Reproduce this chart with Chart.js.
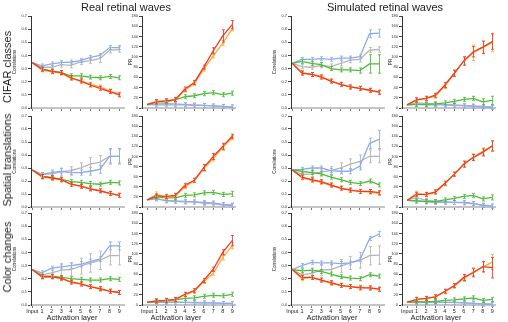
<!DOCTYPE html>
<html>
<head>
<meta charset="utf-8">
<script src="https://cdn.jsdelivr.net/npm/chart.js@4.4.0/dist/chart.umd.min.js"></script>
<style>
  body { margin: 0; width: 508px; height: 322px; background: #fff; position: relative; overflow: hidden;
         font-family: "Liberation Sans", Arial, sans-serif; color: #222; }
  canvas { position: absolute; }
  .t { position: absolute; white-space: nowrap; color: #222; transform: translate(-50%, -50%); will-change: transform; }
  .r { transform: translate(-50%, -50%) rotate(-90deg); }
</style>
</head>
<body>
<div class="t" style="left:126px;top:7px;font-size:11px">Real retinal waves</div>
<div class="t" style="left:385px;top:7px;font-size:11px">Simulated retinal waves</div>
<div class="t r" style="left:7px;top:67px;font-size:11px">CIFAR classes</div>
<div class="t r" style="left:7px;top:160px;font-size:11px">Spatial translations</div>
<div class="t r" style="left:7px;top:257px;font-size:11px">Color changes</div>
<div class="t" style="left:72px;top:317px;font-size:7.5px">Activation layer</div>
<div class="t" style="left:176px;top:317px;font-size:7.5px">Activation layer</div>
<div class="t" style="left:332px;top:317px;font-size:7.5px">Activation layer</div>
<div class="t" style="left:436px;top:317px;font-size:7.5px">Activation layer</div>

<script>
// x positions: input + 9 activation layers
const xLabels = ['Input', '1', '2', '3', '4', '5', '6', '7', '8', '9'];
// row order inside every panel array below
const seriesNames = ['red', 'orange', 'green', 'blue', 'gray'];

/* ---------- CIFAR classes ---------- */
const realCifarCorr = [
  [0.345, 0.295, 0.28, 0.27, 0.23, 0.205, 0.175, 0.15, 0.125, 0.10],
  [0.345, 0.29, 0.275, 0.265, 0.225, 0.21, 0.18, 0.16, 0.13, 0.105],
  [0.345, 0.295, 0.28, 0.27, 0.245, 0.245, 0.235, 0.23, 0.24, 0.23],
  [0.345, 0.32, 0.335, 0.345, 0.35, 0.36, 0.385, 0.40, 0.46, 0.46],
  [0.345, 0.31, 0.31, 0.33, 0.325, 0.35, 0.36, 0.375, 0.44, 0.445]
];
const realCifarCorrErr = [
  [0, 0.005, 0.005, 0.008, 0.012, 0.01, 0.008, 0.006, 0.005, 0.005],
  [0, 0.005, 0.005, 0.006, 0.008, 0.008, 0.006, 0.006, 0.005, 0.005],
  [0, 0.005, 0.005, 0.006, 0.008, 0.008, 0.006, 0.006, 0.008, 0.008],
  [0, 0.005, 0.005, 0.008, 0.008, 0.01, 0.008, 0.008, 0.01, 0.015],
  [0, 0.01, 0.015, 0.02, 0.02, 0.02, 0.02, 0.03, 0.02, 0.02]
];
const realCifarPR = [
  [6.5, 12, 14, 16.5, 37, 50, 80, 112, 141, 163],
  [6.5, 13, 14, 16, 35, 48, 76, 102, 127, 155],
  [6.5, 12, 12, 16, 22, 24, 28, 30, 26, 29],
  [6.5, 6, 6, 6, 6, 5, 5, 4, 3, 2],
  [6.5, 8, 9, 8, 7, 6, 5, 4, 3, 2]
];
const realCifarPRErr = [
  [0, 1, 1, 2, 4, 4, 4, 6, 12, 8],
  [0, 1, 1, 2, 3, 3, 3, 4, 5, 4],
  [0, 1, 1, 2, 3, 3, 4, 4, 3, 3],
  [0, 1, 1, 1, 1, 1, 1, 1, 1, 1],
  [0, 1, 1, 1, 1, 1, 1, 1, 1, 1]
];
const simCifarCorr = [
  [0.34, 0.265, 0.255, 0.235, 0.205, 0.18, 0.16, 0.15, 0.135, 0.12],
  [0.34, 0.27, 0.255, 0.24, 0.205, 0.18, 0.16, 0.15, 0.135, 0.12],
  [0.34, 0.355, 0.34, 0.33, 0.30, 0.29, 0.29, 0.285, 0.335, 0.335],
  [0.34, 0.37, 0.37, 0.375, 0.37, 0.38, 0.38, 0.39, 0.565, 0.57],
  [0.34, 0.315, 0.31, 0.325, 0.315, 0.34, 0.365, 0.37, 0.44, 0.445]
];
const simCifarCorrErr = [
  [0, 0.01, 0.01, 0.01, 0.01, 0.005, 0.005, 0.005, 0.005, 0.005],
  [0, 0.01, 0.01, 0.01, 0.01, 0.005, 0.005, 0.005, 0.005, 0.005],
  [0, 0.005, 0.005, 0.01, 0.01, 0.01, 0.01, 0.02, 0.07, 0.07],
  [0, 0.01, 0.01, 0.01, 0.005, 0.01, 0.01, 0.015, 0.03, 0.03],
  [0, 0.01, 0.01, 0.02, 0.02, 0.02, 0.02, 0.02, 0.02, 0.02]
];
const simCifarPR = [
  [6, 16, 19, 25, 45, 68, 92, 110, 119, 130],
  [6, 16, 19, 23, 43, 68, 92, 108, 118, 128],
  [6, 7, 7, 8, 10, 13, 17, 19, 12, 15],
  [6, 7, 6, 6, 6, 5, 4, 3, 2, 1],
  [6, 10, 9, 8, 7, 6, 5, 4, 3, 2]
];
const simCifarPRErr = [
  [0, 2, 2, 3, 5, 6, 8, 10, 12, 15],
  [0, 2, 2, 3, 5, 6, 9, 15, 12, 18],
  [0, 1, 1, 1, 2, 2, 2, 3, 6, 8],
  [0, 1, 1, 1, 1, 1, 1, 1, 1, 1],
  [0, 1, 1, 1, 1, 1, 1, 1, 1, 1]
];

/* ---------- Spatial translations ---------- */
const realSpatialCorr = [
  [0.285, 0.235, 0.225, 0.21, 0.175, 0.16, 0.14, 0.125, 0.105, 0.09],
  [0.285, 0.23, 0.22, 0.21, 0.175, 0.16, 0.14, 0.125, 0.105, 0.09],
  [0.285, 0.235, 0.225, 0.215, 0.195, 0.19, 0.18, 0.175, 0.19, 0.185],
  [0.285, 0.25, 0.265, 0.275, 0.265, 0.265, 0.275, 0.29, 0.39, 0.39],
  [0.285, 0.25, 0.255, 0.27, 0.28, 0.30, 0.33, 0.345, 0.39, 0.39]
];
const realSpatialCorrErr = [
  [0, 0.005, 0.005, 0.005, 0.005, 0.005, 0.005, 0.005, 0.005, 0.005],
  [0, 0.005, 0.005, 0.005, 0.005, 0.005, 0.005, 0.005, 0.005, 0.005],
  [0, 0.01, 0.01, 0.01, 0.01, 0.01, 0.01, 0.01, 0.01, 0.01],
  [0, 0.01, 0.02, 0.02, 0.02, 0.02, 0.03, 0.03, 0.06, 0.06],
  [0, 0.01, 0.02, 0.03, 0.03, 0.04, 0.05, 0.05, 0.05, 0.05]
];
const realSpatialPR = [
  [14, 22, 21, 23, 43, 53, 78, 100, 120, 140],
  [14, 25, 19, 22, 40, 52, 76, 96, 118, 137],
  [14, 20, 18, 18, 23, 24, 28, 29, 25, 26],
  [14, 17, 12, 11, 10, 10, 9, 8, 5, 4],
  [14, 16, 13, 12, 11, 10, 7, 6, 4, 3]
];
const realSpatialPRErr = [
  [0, 3, 2, 2, 3, 3, 6, 6, 6, 4],
  [0, 5, 3, 2, 3, 3, 5, 5, 6, 4],
  [0, 2, 2, 2, 3, 3, 3, 4, 4, 5],
  [0, 2, 2, 2, 2, 2, 2, 2, 2, 2],
  [0, 2, 2, 2, 2, 2, 2, 2, 2, 2]
];
const simSpatialCorr = [
  [0.285, 0.23, 0.21, 0.195, 0.17, 0.145, 0.13, 0.12, 0.12, 0.11],
  [0.285, 0.225, 0.205, 0.19, 0.165, 0.145, 0.13, 0.12, 0.115, 0.105],
  [0.285, 0.275, 0.265, 0.255, 0.23, 0.21, 0.19, 0.18, 0.20, 0.17],
  [0.285, 0.29, 0.30, 0.30, 0.28, 0.275, 0.275, 0.315, 0.49, 0.52],
  [0.285, 0.25, 0.255, 0.27, 0.28, 0.30, 0.33, 0.35, 0.39, 0.39]
];
const simSpatialCorrErr = [
  [0, 0.01, 0.005, 0.005, 0.005, 0.005, 0.005, 0.005, 0.005, 0.01],
  [0, 0.01, 0.005, 0.005, 0.005, 0.005, 0.005, 0.005, 0.005, 0.01],
  [0, 0.005, 0.005, 0.005, 0.005, 0.005, 0.005, 0.005, 0.005, 0.005],
  [0, 0.01, 0.015, 0.015, 0.01, 0.02, 0.02, 0.03, 0.04, 0.07],
  [0, 0.01, 0.02, 0.03, 0.03, 0.04, 0.04, 0.05, 0.05, 0.05]
];
const simSpatialPR = [
  [13, 25, 25, 30, 47, 65, 85, 98, 108, 121],
  [13, 27, 24, 29, 46, 65, 84, 99, 110, 120],
  [13, 12, 11, 11, 14, 17, 21, 23, 16, 19],
  [13, 12, 10, 9, 9, 9, 9, 7, 3, 2],
  [13, 19, 13, 11, 10, 9, 8, 6, 4, 2]
];
const simSpatialPRErr = [
  [0, 3, 2, 2, 3, 4, 6, 6, 7, 10],
  [0, 4, 2, 2, 3, 4, 6, 6, 7, 10],
  [0, 1, 1, 1, 2, 2, 2, 2, 4, 5],
  [0, 1, 1, 1, 1, 1, 1, 1, 1, 1],
  [0, 1, 1, 1, 1, 1, 1, 1, 1, 1]
];

/* ---------- Color changes ---------- */
const realColorCorr = [
  [0.27, 0.215, 0.215, 0.205, 0.175, 0.16, 0.14, 0.125, 0.105, 0.095],
  [0.27, 0.215, 0.215, 0.20, 0.175, 0.16, 0.14, 0.12, 0.105, 0.095],
  [0.27, 0.22, 0.22, 0.21, 0.20, 0.195, 0.19, 0.19, 0.20, 0.195],
  [0.27, 0.245, 0.28, 0.29, 0.30, 0.31, 0.33, 0.35, 0.45, 0.45],
  [0.27, 0.23, 0.245, 0.265, 0.27, 0.295, 0.32, 0.34, 0.375, 0.375]
];
const realColorCorrErr = [
  [0, 0.005, 0.005, 0.005, 0.01, 0.01, 0.005, 0.005, 0.005, 0.005],
  [0, 0.005, 0.005, 0.005, 0.01, 0.01, 0.005, 0.005, 0.005, 0.005],
  [0, 0.01, 0.005, 0.005, 0.005, 0.005, 0.005, 0.005, 0.01, 0.005],
  [0, 0.01, 0.015, 0.015, 0.02, 0.02, 0.02, 0.02, 0.03, 0.03],
  [0, 0.01, 0.03, 0.05, 0.05, 0.06, 0.07, 0.07, 0.07, 0.07]
];
const realColorPR = [
  [5, 8, 9, 11, 21, 28, 48, 70, 103, 126],
  [5, 8, 9, 10, 20, 27, 46, 62, 93, 116],
  [5, 7, 8, 10, 13, 14, 17, 19, 18, 21],
  [5, 5, 5, 5, 5, 4, 4, 4, 3, 3],
  [5, 6, 6, 6, 5, 5, 4, 4, 3, 3]
];
const realColorPRErr = [
  [0, 1, 1, 2, 3, 3, 3, 4, 5, 10],
  [0, 1, 1, 2, 3, 3, 3, 4, 5, 6],
  [0, 1, 1, 1, 2, 2, 2, 2, 2, 2],
  [0, 1, 1, 1, 1, 1, 1, 1, 1, 1],
  [0, 1, 1, 1, 1, 1, 1, 1, 1, 1]
];
const simColorCorr = [
  [0.27, 0.21, 0.21, 0.19, 0.17, 0.15, 0.14, 0.13, 0.13, 0.12],
  [0.27, 0.20, 0.21, 0.19, 0.165, 0.15, 0.14, 0.135, 0.13, 0.12],
  [0.27, 0.26, 0.265, 0.255, 0.235, 0.215, 0.205, 0.20, 0.23, 0.22],
  [0.27, 0.30, 0.325, 0.32, 0.32, 0.315, 0.32, 0.345, 0.505, 0.54],
  [0.27, 0.23, 0.24, 0.265, 0.27, 0.295, 0.32, 0.34, 0.375, 0.38]
];
const simColorCorrErr = [
  [0, 0.01, 0.005, 0.005, 0.005, 0.005, 0.005, 0.005, 0.005, 0.005],
  [0, 0.01, 0.005, 0.005, 0.005, 0.005, 0.005, 0.005, 0.005, 0.005],
  [0, 0.005, 0.005, 0.005, 0.005, 0.005, 0.005, 0.005, 0.01, 0.01],
  [0, 0.01, 0.01, 0.01, 0.01, 0.01, 0.01, 0.01, 0.01, 0.02],
  [0, 0.01, 0.02, 0.04, 0.04, 0.05, 0.05, 0.06, 0.07, 0.07]
];
const simColorPR = [
  [5, 11, 13, 16, 27, 38, 54, 63, 75, 73],
  [5, 11, 13, 16, 26, 37, 52, 65, 74, 84],
  [5, 6, 6, 7, 9, 10, 12, 14, 9, 11],
  [5, 5, 5, 5, 5, 5, 4, 3, 2, 1],
  [5, 6, 6, 6, 5, 5, 4, 3, 2, 2]
];
const simColorPRErr = [
  [0, 1, 1, 2, 3, 4, 6, 8, 10, 20],
  [0, 1, 1, 2, 3, 4, 6, 8, 10, 15],
  [0, 1, 1, 1, 2, 2, 2, 2, 3, 4],
  [0, 1, 1, 1, 1, 1, 1, 1, 1, 1],
  [0, 1, 1, 1, 1, 1, 1, 1, 1, 1]
];

const seriesColors = {
  red: '#f03a1e',
  orange: '#fcaa3c',
  green: '#4cbb38',
  blue: '#8cabf0',
  gray: '#b5b5b5'
};

/* ================= ERROR BARS ================= */

const errorBars = {
  id: 'errorBars',
  afterDatasetsDraw(chart) {
    const { ctx } = chart;
    const x = chart.scales.x;
    const y = chart.scales.y;
    // dataset 0 is drawn on top, so go backwards
    for (let i = chart.data.datasets.length - 1; i >= 0; i--) {
      const ds = chart.data.datasets[i];
      ctx.save();
      ctx.strokeStyle = ds.borderColor;
      ctx.globalAlpha = 0.85;
      ctx.lineWidth = 1;
      ds.data.forEach((p, j) => {
        if (j === 0) return;
        const px = Math.round(x.getPixelForValue(p.x)) + 0.5;
        const c = y.getPixelForValue(p.y);
        let top = y.getPixelForValue(p.y + ds.err[j]);
        let bot = y.getPixelForValue(p.y - ds.err[j]);
        if (bot - top < 4) { top = c - 2; bot = c + 2; }
        ctx.beginPath();
        ctx.moveTo(px, top); ctx.lineTo(px, bot);
        ctx.moveTo(px - 1.5, top); ctx.lineTo(px + 1.5, top);
        ctx.moveTo(px - 1.5, bot); ctx.lineTo(px + 1.5, bot);
        ctx.stroke();
      });
      ctx.restore();
    }
  }
};

/* ================= PANELS ================= */

const columns = [
  { left: 12,  width: 113, kind: 'corr' },
  { left: 128, width: 108, kind: 'pr' },
  { left: 272, width: 113, kind: 'corr' },
  { left: 388, width: 108, kind: 'pr' }
];
const rows = [
  { top: 12,  height: 100, labels: false },
  { top: 112, height: 99,  labels: false },
  { top: 209, height: 108, labels: true }
];
const panelData = [
  [[realCifarCorr, realCifarCorrErr], [realCifarPR, realCifarPRErr], [simCifarCorr, simCifarCorrErr], [simCifarPR, simCifarPRErr]],
  [[realSpatialCorr, realSpatialCorrErr], [realSpatialPR, realSpatialPRErr], [simSpatialCorr, simSpatialCorrErr], [simSpatialPR, simSpatialPRErr]],
  [[realColorCorr, realColorCorrErr], [realColorPR, realColorPRErr], [simColorCorr, simColorCorrErr], [simColorPR, simColorPRErr]]
];

function makePanel(row, col, values, errs) {
  const canvas = document.createElement('canvas');
  canvas.width = col.width;
  canvas.height = row.height;
  canvas.style.left = col.left + 'px';
  canvas.style.top = row.top + 'px';
  document.body.appendChild(canvas);

  const isCorr = col.kind === 'corr';

  new Chart(canvas, {
    type: 'line',
    data: {
      datasets: seriesNames.map((name, s) => ({
        label: name,
        data: values[s].map((v, i) => ({ x: i, y: v })),
        err: errs[s],
        borderColor: seriesColors[name],
        borderWidth: 1.3,
        pointRadius: 0,
        tension: 0
      }))
    },
    options: {
      responsive: false,
      animation: false,
      devicePixelRatio: 1,
      layout: { padding: { top: 4, left: 0, right: 0, bottom: 0 } },
      plugins: { legend: { display: false }, tooltip: { enabled: false } },
      scales: {
        x: {
          type: 'linear',
          min: isCorr ? -0.13 : -0.53,
          max: isCorr ? 9.6 : 9.4,
          afterBuildTicks: (scale) => { scale.ticks = xLabels.map((_, i) => ({ value: i })); },
          afterFit: (scale) => { scale.height = row.labels ? 12 : 4; },
          grid: { display: true, drawOnChartArea: false, tickLength: 3, color: '#777' },
          border: { color: '#c4c4c4', width: 2 },
          ticks: {
            display: row.labels,
            autoSkip: false,
            maxRotation: 0,
            padding: 0,
            color: '#222',
            font: { size: 5.5, family: 'Liberation Sans' },
            callback: (v) => xLabels[v]
          }
        },
        y: {
          min: 0,
          max: isCorr ? 0.7 : 180,
          afterFit: (scale) => { scale.width = isCorr ? 19 : 14; },
          grid: { display: true, drawOnChartArea: false, tickLength: 3, color: '#444' },
          border: { color: '#333', width: 1 },
          title: {
            display: true,
            text: isCorr ? 'Correlations' : 'PR',
            padding: 0,
            color: '#222',
            font: { size: 4.5, family: 'Liberation Sans' }
          },
          ticks: {
            stepSize: isCorr ? 0.1 : 20,
            padding: 1,
            color: '#333',
            font: { size: 4, family: 'Liberation Sans' },
            callback: (v) => isCorr ? v.toFixed(1) : v
          }
        }
      }
    },
    plugins: [errorBars]
  });
}

rows.forEach((row, r) => {
  columns.forEach((col, c) => {
    makePanel(row, col, panelData[r][c][0], panelData[r][c][1]);
  });
});
</script>
</body>
</html>
